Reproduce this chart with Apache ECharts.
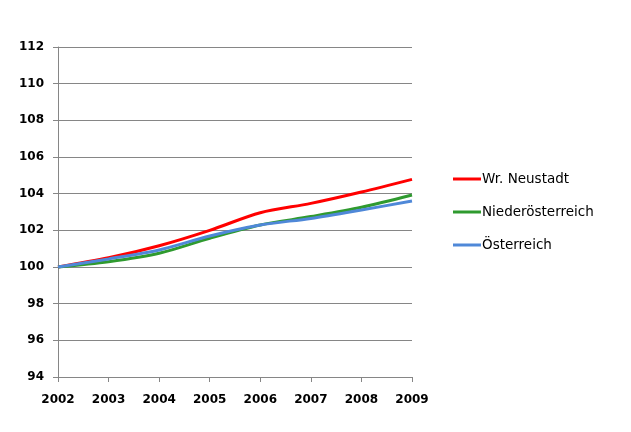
<!DOCTYPE html>
<html><head><meta charset="utf-8">
<script src="https://cdn.jsdelivr.net/npm/echarts@6/dist/echarts.min.js"></script>
<style>html,body{margin:0;padding:0;background:#fff}#c{width:631px;height:432px}</style>
</head><body><div id="c"></div>
<script>
const years = ['2002','2003','2004','2005','2006','2007','2008','2009'];
const wrNeustadt = [100, 100.5, 101.16, 102.0, 102.96, 103.47, 104.09, 104.78];
const niederoesterreich = [100, 100.29, 100.75, 101.57, 102.29, 102.75, 103.26, 103.93];
const oesterreich = [100, 100.44, 100.93, 101.69, 102.29, 102.65, 103.11, 103.6];
const seriesNames = ['Wr. Neustadt', 'Niederösterreich', 'Österreich'];
const colors = ['#ff0000', '#2f9a2f', '#4f88d8'];

const chart = echarts.init(document.getElementById('c'));
const font = {fontFamily: 'DejaVu Sans', fontWeight: 'bold', fontSize: 12, color: '#000'};
chart.setOption({
  animation: false,
  grid: {left: 58, right: 219, top: 47, bottom: 55},
  legend: {
    orient: 'vertical', left: 448, top: 167, itemGap: 19,
    icon: 'rect', itemWidth: 28, itemHeight: 3,
    textStyle: {fontFamily: 'DejaVu Sans', fontSize: 13.5, color: '#000', padding: [0,0,0,-4]},
    data: seriesNames
  },
  xAxis: {
    type: 'category', data: years, boundaryGap: false,
    axisLine: {lineStyle: {color: '#868686', width: 1}},
    axisTick: {show: true, length: 5, alignWithLabel: true, lineStyle: {color: '#868686'}},
    axisLabel: Object.assign({margin: 17}, font),
    splitLine: {show: false}
  },
  yAxis: {
    type: 'value', min: 94, max: 112, interval: 2,
    axisLine: {show: true, lineStyle: {color: '#868686', width: 1}},
    axisTick: {show: true, length: 5, lineStyle: {color: '#868686'}},
    axisLabel: Object.assign({margin: 14}, font),
    splitLine: {show: true, lineStyle: {color: '#868686', width: 1}}
  },
  series: [
    {name: seriesNames[0], type: 'line', data: wrNeustadt, smooth: 0.3, symbol: 'none', lineStyle: {width: 3, color: colors[0]}, itemStyle: {color: colors[0]}, z: 3},
    {name: seriesNames[1], type: 'line', data: niederoesterreich, smooth: 0.3, symbol: 'none', lineStyle: {width: 3, color: colors[1]}, itemStyle: {color: colors[1]}, z: 4},
    {name: seriesNames[2], type: 'line', data: oesterreich, smooth: 0.3, symbol: 'none', lineStyle: {width: 3, color: colors[2]}, itemStyle: {color: colors[2]}, z: 5}
  ]
});
</script></body></html>
